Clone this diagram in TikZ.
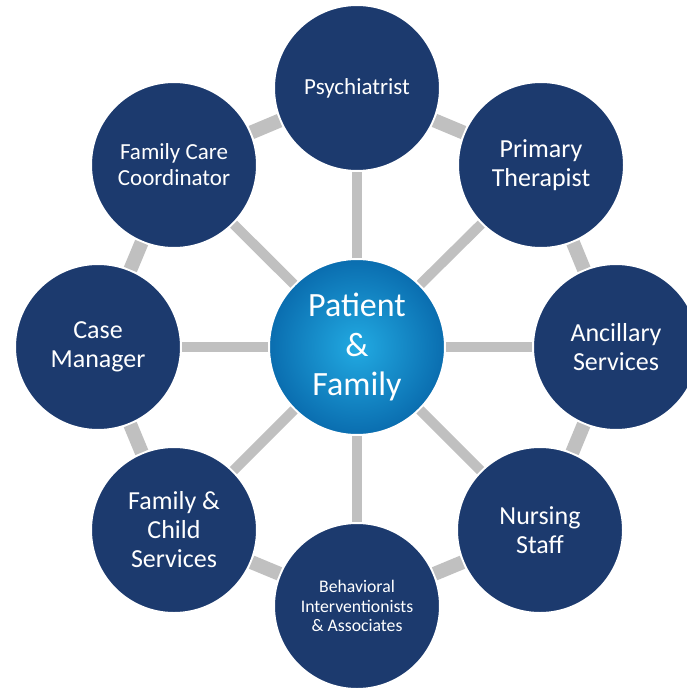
\documentclass[tikz,border=0pt]{standalone}
\usepackage{fontspec}
\setmainfont{Carlito}
\usepackage{tikz}
\usetikzlibrary{positioning}
\definecolor{navy}{HTML}{1C3A6E}
\definecolor{bar}{HTML}{C0C0C0}
\definecolor{hubin}{HTML}{22AAE2}
\definecolor{hubout}{HTML}{0A6DAF}

\begin{document}
\begin{tikzpicture}[x=1pt,y=1pt,
        role/.style={circle,fill=navy,draw=white,line width=2pt,minimum size=166pt,
                     inner sep=0pt,align=center,text=white,font=\fontsize{26}{29}\selectfont},
        hub/.style={circle,inner color=hubin,outer color=hubout,draw=white,line width=2pt,
                    minimum size=176pt,inner sep=0pt,align=center,text=white,
                    font=\fontsize{34}{39.5}\selectfont},
        spoke/.style={bar,line width=10pt},
        rim/.style={bar,line width=14pt}]
        \useasboundingbox (0,0) rectangle (687,-688);
        % centre
        \node [hub] (ctr) at (357,-347) {Patient\\\&\\Family};
        % ring of roles
        \node [role,font=\fontsize{23}{26}\selectfont] (psy) at (357,-88) {Psychiatrist};
        \node [role] (pth) at (541,-165) {Primary\\Therapist};
        \node [role] (anc) at (616,-347) {Ancillary\\Services};
        \node [role] (nur) at (540,-530) {Nursing\\Staff};
        \node [role,font=\fontsize{17.7}{19.5}\selectfont] (beh) at (357,-606) {Behavioral\\Interventionists\\\& Associates};
        \node [role] (fcs) at (174,-530) {Family \&\\Child\\Services};
        \node [role] (cas) at (98,-347) {Case\\Manager};
        \node [role,font=\fontsize{23}{26}\selectfont] (fcc) at (174,-165) {Family Care\\Coordinator};
        % spokes
        \draw [spoke] (ctr) -- (psy);
        \draw [spoke] (ctr) -- (pth);
        \draw [spoke] (ctr) -- (anc);
        \draw [spoke] (ctr) -- (nur);
        \draw [spoke] (ctr) -- (beh);
        \draw [spoke] (ctr) -- (fcs);
        \draw [spoke] (ctr) -- (cas);
        \draw [spoke] (ctr) -- (fcc);
        % rim links
        \draw [rim] (psy) -- (pth);
        \draw [rim] (pth) -- (anc);
        \draw [rim] (anc) -- (nur);
        \draw [rim] (nur) -- (beh);
        \draw [rim] (beh) -- (fcs);
        \draw [rim] (fcs) -- (cas);
        \draw [rim] (cas) -- (fcc);
        \draw [rim] (fcc) -- (psy);
\end{tikzpicture}
\end{document}
